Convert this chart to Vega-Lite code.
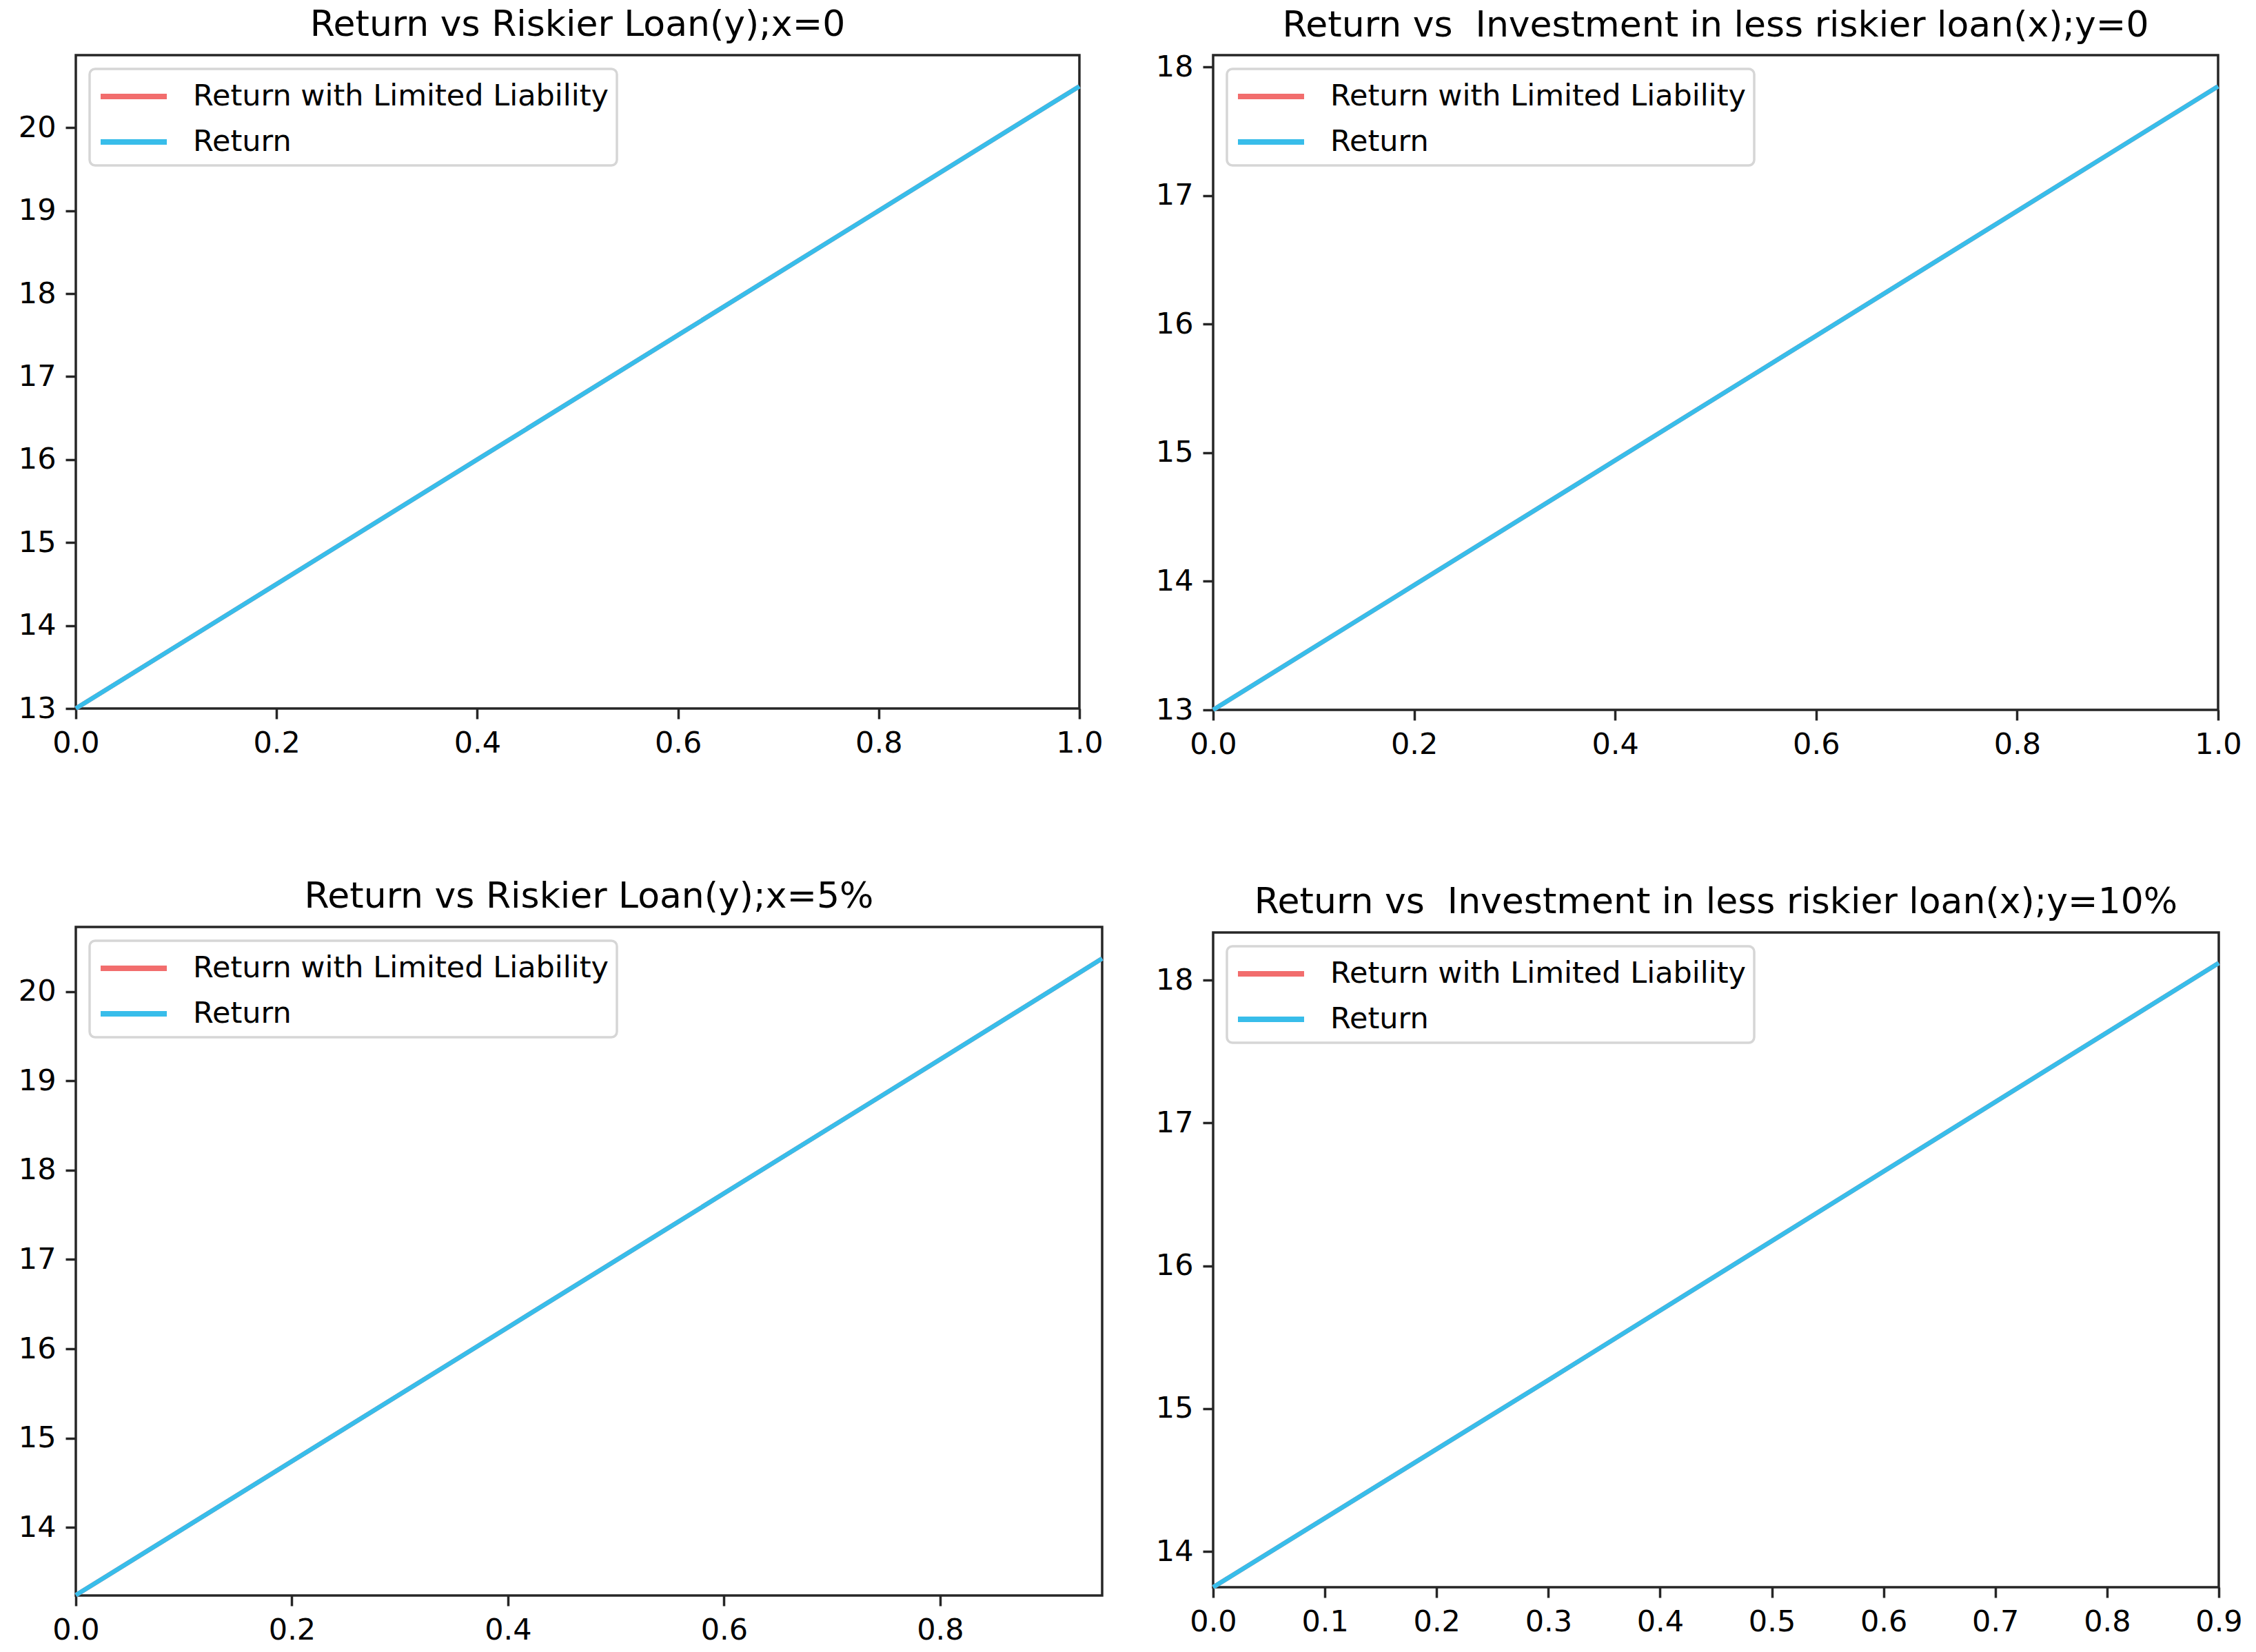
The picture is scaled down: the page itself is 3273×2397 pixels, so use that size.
{
  "$schema": "https://vega.github.io/schema/vega-lite/v6.json",
  "background": "white",
  "padding": {"left": 24, "top": 8, "right": 0, "bottom": 0},
  "datasets": {
    "pts": [
      {"panel": "p1", "series": "Return with Limited Liability", "x": 0.0, "ret": 13.0},
      {"panel": "p1", "series": "Return with Limited Liability", "x": 0.2, "ret": 14.5},
      {"panel": "p1", "series": "Return with Limited Liability", "x": 0.4, "ret": 16.0},
      {"panel": "p1", "series": "Return with Limited Liability", "x": 0.6, "ret": 17.5},
      {"panel": "p1", "series": "Return with Limited Liability", "x": 0.8, "ret": 19.0},
      {"panel": "p1", "series": "Return with Limited Liability", "x": 1.0, "ret": 20.5},
      {"panel": "p1", "series": "Return", "x": 0.0, "ret": 13.0},
      {"panel": "p1", "series": "Return", "x": 0.2, "ret": 14.5},
      {"panel": "p1", "series": "Return", "x": 0.4, "ret": 16.0},
      {"panel": "p1", "series": "Return", "x": 0.6, "ret": 17.5},
      {"panel": "p1", "series": "Return", "x": 0.8, "ret": 19.0},
      {"panel": "p1", "series": "Return", "x": 1.0, "ret": 20.5},
      {"panel": "p2", "series": "Return with Limited Liability", "x": 0.0, "ret": 13.0},
      {"panel": "p2", "series": "Return with Limited Liability", "x": 0.2, "ret": 13.97},
      {"panel": "p2", "series": "Return with Limited Liability", "x": 0.4, "ret": 14.94},
      {"panel": "p2", "series": "Return with Limited Liability", "x": 0.6, "ret": 15.91},
      {"panel": "p2", "series": "Return with Limited Liability", "x": 0.8, "ret": 16.88},
      {"panel": "p2", "series": "Return with Limited Liability", "x": 1.0, "ret": 17.85},
      {"panel": "p2", "series": "Return", "x": 0.0, "ret": 13.0},
      {"panel": "p2", "series": "Return", "x": 0.2, "ret": 13.97},
      {"panel": "p2", "series": "Return", "x": 0.4, "ret": 14.94},
      {"panel": "p2", "series": "Return", "x": 0.6, "ret": 15.91},
      {"panel": "p2", "series": "Return", "x": 0.8, "ret": 16.88},
      {"panel": "p2", "series": "Return", "x": 1.0, "ret": 17.85},
      {"panel": "p3", "series": "Return with Limited Liability", "x": 0.0, "ret": 13.24},
      {"panel": "p3", "series": "Return with Limited Liability", "x": 0.2, "ret": 14.74},
      {"panel": "p3", "series": "Return with Limited Liability", "x": 0.4, "ret": 16.24},
      {"panel": "p3", "series": "Return with Limited Liability", "x": 0.6, "ret": 17.74},
      {"panel": "p3", "series": "Return with Limited Liability", "x": 0.8, "ret": 19.24},
      {"panel": "p3", "series": "Return with Limited Liability", "x": 0.95, "ret": 20.37},
      {"panel": "p3", "series": "Return", "x": 0.0, "ret": 13.24},
      {"panel": "p3", "series": "Return", "x": 0.2, "ret": 14.74},
      {"panel": "p3", "series": "Return", "x": 0.4, "ret": 16.24},
      {"panel": "p3", "series": "Return", "x": 0.6, "ret": 17.74},
      {"panel": "p3", "series": "Return", "x": 0.8, "ret": 19.24},
      {"panel": "p3", "series": "Return", "x": 0.95, "ret": 20.37},
      {"panel": "p4", "series": "Return with Limited Liability", "x": 0.0, "ret": 13.75},
      {"panel": "p4", "series": "Return with Limited Liability", "x": 0.3, "ret": 15.2},
      {"panel": "p4", "series": "Return with Limited Liability", "x": 0.6, "ret": 16.66},
      {"panel": "p4", "series": "Return with Limited Liability", "x": 0.9, "ret": 18.12},
      {"panel": "p4", "series": "Return", "x": 0.0, "ret": 13.75},
      {"panel": "p4", "series": "Return", "x": 0.3, "ret": 15.2},
      {"panel": "p4", "series": "Return", "x": 0.6, "ret": 16.66},
      {"panel": "p4", "series": "Return", "x": 0.9, "ret": 18.12}
    ]
  },
  "data": {"name": "pts"},
  "resolve": {"scale": {"color": "independent", "x": "independent", "y": "independent"}},
  "spacing": 60,
  "hconcat": [
    {
      "resolve": {"scale": {"color": "independent", "x": "independent", "y": "independent"}},
      "spacing": 171,
      "vconcat": [
        {
          "width": 1456, "height": 948,
          "title": {"text": "Return vs Riskier Loan(y);x=0"},
          "transform": [{"filter": "datum.panel == 'p1'"}],
          "mark": {"type": "line", "strokeWidth": 6.5},
          "encoding": {
            "x": {"field": "x", "type": "quantitative", "scale": {"domain": [0, 1], "nice": false, "zero": false}, "axis": {"values": [0, 0.2, 0.4, 0.6, 0.8, 1.0], "format": ".1f", "title": null}},
            "y": {"field": "ret", "type": "quantitative", "scale": {"domain": [13, 20.875], "nice": false, "zero": false}, "axis": {"values": [13, 14, 15, 16, 17, 18, 19, 20], "title": null}},
            "color": {"field": "series", "type": "nominal", "sort": ["Return with Limited Liability", "Return"], "scale": {"domain": ["Return with Limited Liability", "Return"], "range": ["#f26d6d", "#38bdea"]}, "legend": {"title": null}}
          }
        },
        {
          "width": 1489, "height": 970,
          "title": {"text": "Return vs Riskier Loan(y);x=5%"},
          "transform": [{"filter": "datum.panel == 'p3'"}],
          "mark": {"type": "line", "strokeWidth": 6.5},
          "encoding": {
            "x": {"field": "x", "type": "quantitative", "scale": {"domain": [0, 0.95], "nice": false, "zero": false}, "axis": {"values": [0, 0.2, 0.4, 0.6, 0.8], "format": ".1f", "title": null}},
            "y": {"field": "ret", "type": "quantitative", "scale": {"domain": [13.237, 20.724], "nice": false, "zero": false}, "axis": {"values": [14, 15, 16, 17, 18, 19, 20], "title": null}},
            "color": {"field": "series", "type": "nominal", "sort": ["Return with Limited Liability", "Return"], "scale": {"domain": ["Return with Limited Liability", "Return"], "range": ["#f26d6d", "#38bdea"]}, "legend": {"title": null}}
          }
        }
      ]
    },
    {
      "resolve": {"scale": {"color": "independent", "x": "independent", "y": "independent"}},
      "spacing": 177,
      "vconcat": [
        {
          "width": 1458, "height": 950,
          "title": {"text": "Return vs \u00a0Investment in less riskier loan(x);y=0", "offset": 12},
          "transform": [{"filter": "datum.panel == 'p2'"}],
          "mark": {"type": "line", "strokeWidth": 6.5},
          "encoding": {
            "x": {"field": "x", "type": "quantitative", "scale": {"domain": [0, 1], "nice": false, "zero": false}, "axis": {"values": [0, 0.2, 0.4, 0.6, 0.8, 1.0], "format": ".1f", "title": null}},
            "y": {"field": "ret", "type": "quantitative", "scale": {"domain": [13, 18.0925], "nice": false, "zero": false}, "axis": {"values": [13, 14, 15, 16, 17, 18], "title": null}},
            "color": {"field": "series", "type": "nominal", "sort": ["Return with Limited Liability", "Return"], "scale": {"domain": ["Return with Limited Liability", "Return"], "range": ["#f26d6d", "#38bdea"]}, "legend": {"title": null}}
          }
        },
        {
          "width": 1459, "height": 950,
          "title": {"text": "Return vs \u00a0Investment in less riskier loan(x);y=10%"},
          "transform": [{"filter": "datum.panel == 'p4'"}],
          "mark": {"type": "line", "strokeWidth": 6.5},
          "encoding": {
            "x": {"field": "x", "type": "quantitative", "scale": {"domain": [0, 0.9], "nice": false, "zero": false}, "axis": {"values": [0, 0.1, 0.2, 0.3, 0.4, 0.5, 0.6, 0.7, 0.8, 0.9], "format": ".1f", "title": null}},
            "y": {"field": "ret", "type": "quantitative", "scale": {"domain": [13.75, 18.333], "nice": false, "zero": false}, "axis": {"values": [14, 15, 16, 17, 18], "title": null}},
            "color": {"field": "series", "type": "nominal", "sort": ["Return with Limited Liability", "Return"], "scale": {"domain": ["Return with Limited Liability", "Return"], "range": ["#f26d6d", "#38bdea"]}, "legend": {"title": null}}
          }
        }
      ]
    }
  ],
  "config": {
    "font": "DejaVu Sans",
    "view": {"stroke": "#262626", "strokeWidth": 3.5},
    "title": {"font": "DejaVu Sans", "fontSize": 52, "fontWeight": "normal", "color": "#000000", "anchor": "middle", "offset": 17, "frame": "group"},
    "axis": {
      "domain": false, "grid": false,
      "tickColor": "#262626", "tickWidth": 3.5, "tickSize": 15,
      "labelFont": "DejaVu Sans", "labelFontSize": 43, "labelColor": "#000000", "labelPadding": 14,
      "labelFlush": false, "labelOverlap": false
    },
    "legend": {
      "orient": "top-left", "offset": 20, "padding": 12,
      "strokeColor": "#d6d6d6", "strokeWidth": 3.5, "cornerRadius": 8, "fillColor": "white",
      "labelFont": "DejaVu Sans", "labelFontSize": 43, "labelColor": "#000000",
      "symbolType": "M-1,0L3,0", "symbolSize": 2304, "symbolStrokeWidth": 8,
      "labelOffset": 82, "rowPadding": 16, "labelLimit": 0
    }
  }
}
